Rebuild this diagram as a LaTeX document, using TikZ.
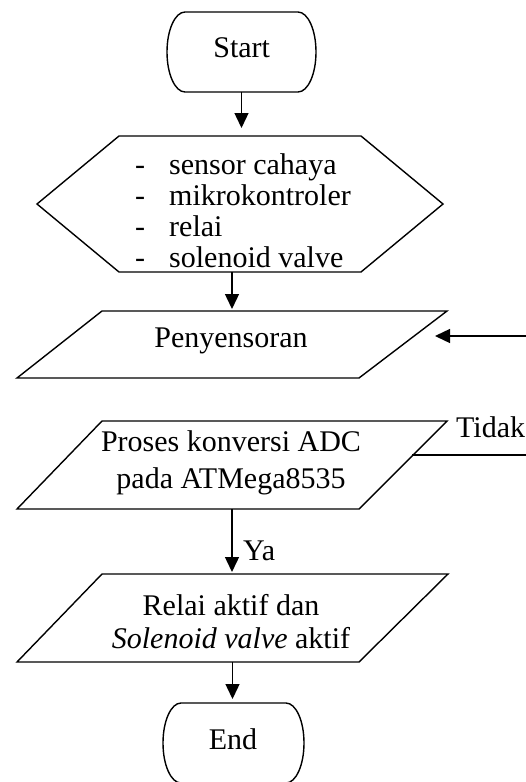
\documentclass[tikz,border=0pt]{standalone}
\usepackage{fontspec}
\setmainfont{Liberation Serif}
\usetikzlibrary{arrows.meta,calc}
\tikzset{
  shp/.style={draw=none, inner sep=0pt, outer sep=0pt},
  lbl/.style={inner sep=0pt, font=\fontsize{30}{36}\selectfont},
  ln/.style={line width=1.4pt},
  arr/.style={ln, -{Triangle[length=15pt,width=14pt]}},
}
\begin{document}
\begin{tikzpicture}[x=1pt,y=1pt]
\useasboundingbox (0,0) rectangle (526,-782);
% Start
\node[shp, minimum width=149pt, minimum height=80pt] (start) at (241.5,-52) {};
\draw[ln] ([xshift=18pt]start.north west) -- ([xshift=-18pt]start.north east)
  arc[start angle=90,end angle=-90,x radius=18pt,y radius=40pt]
  -- ([xshift=18pt]start.south west)
  arc[start angle=270,end angle=90,x radius=18pt,y radius=40pt] -- cycle;
\node[lbl, anchor=base] (starttxt) at (241.7,-57) {Start};
% Hexagon
\node[shp, minimum width=406pt, minimum height=136pt] (hex) at (240,-204) {};
\draw[ln] (hex.west) -- ([xshift=82pt]hex.north west) -- ([xshift=-82pt]hex.north east)
  -- (hex.east) -- ([xshift=-82pt]hex.south east) -- ([xshift=82pt]hex.south west) -- cycle;
\node[lbl, anchor=west, align=left, font=\fontsize{30}{31}\selectfont] (hextxt) at (135,-211)
  {\makebox[34pt][l]{-}sensor cahaya\\ \makebox[34pt][l]{-}mikrokontroler\\ \makebox[34pt][l]{-}relai\\ \makebox[34pt][l]{-}solenoid valve};
% Penyensoran
\node[shp, minimum width=430pt, minimum height=67pt] (p1) at (232,-344.5) {};
\draw[ln] ([xshift=85pt]p1.north west) -- (p1.north east) -- ([xshift=-88pt]p1.south east) -- (p1.south west) -- cycle;
\node[lbl, anchor=base] (p1txt) at (231,-347) {Penyensoran};
% Proses
\node[shp, minimum width=430pt, minimum height=88pt] (p2) at (232,-465) {};
\draw[ln] ([xshift=85pt]p2.north west) -- (p2.north east) -- ([xshift=-88pt]p2.south east) -- (p2.south west) -- cycle;
\node[lbl, align=center, font=\fontsize{30}{37}\selectfont] (p2txt) at (231,-463) {Proses konversi ADC\\pada ATMega8535};
% Relai
\node[shp, minimum width=431pt, minimum height=88pt] (p3) at (232.5,-618) {};
\draw[ln] ([xshift=85pt]p3.north west) -- (p3.north east) -- ([xshift=-89pt]p3.south east) -- (p3.south west) -- cycle;
\node[lbl, align=center, font=\fontsize{30}{33}\selectfont] (p3txt) at (231,-622) {Relai aktif dan\\\textit{Solenoid valve} aktif};
% End
\node[shp, minimum width=141pt, minimum height=80pt] (end) at (233.5,-743) {};
\draw[ln] ([xshift=18pt]end.north west) -- ([xshift=-18pt]end.north east)
  arc[start angle=90,end angle=-90,x radius=18pt,y radius=40pt]
  -- ([xshift=18pt]end.south west)
  arc[start angle=270,end angle=90,x radius=18pt,y radius=40pt] -- cycle;
\node[lbl, anchor=base] (endtxt) at (233,-749) {End};
% connectors
\draw[arr, shorten >=8pt] (start.south) -- (start.south |- hex.north);
\draw[arr, shorten >=2pt] (p1.north |- hex.south) -- (p1.north);
\draw[arr, shorten >=2pt] (p2.south) -- (p2.south |- p3.north);
\draw[arr, shorten >=4pt] (p3.south) -- (p3.south |- end.north);
\node[lbl, anchor=base west] (ya) at (243,-560) {Ya};
% right side loop ends
\coordinate (rin) at (526,-336);
\coordinate (ptip) at (435,-336);
\draw[arr] (rin) -- (ptip);
\coordinate (p2r) at (412,-455);
\coordinate (tout) at (526,-455);
\draw[ln] (p2r) -- (tout);
\node[lbl, anchor=base west] (tidak) at (456,-437) {Tidak};
\end{tikzpicture}
\end{document}
